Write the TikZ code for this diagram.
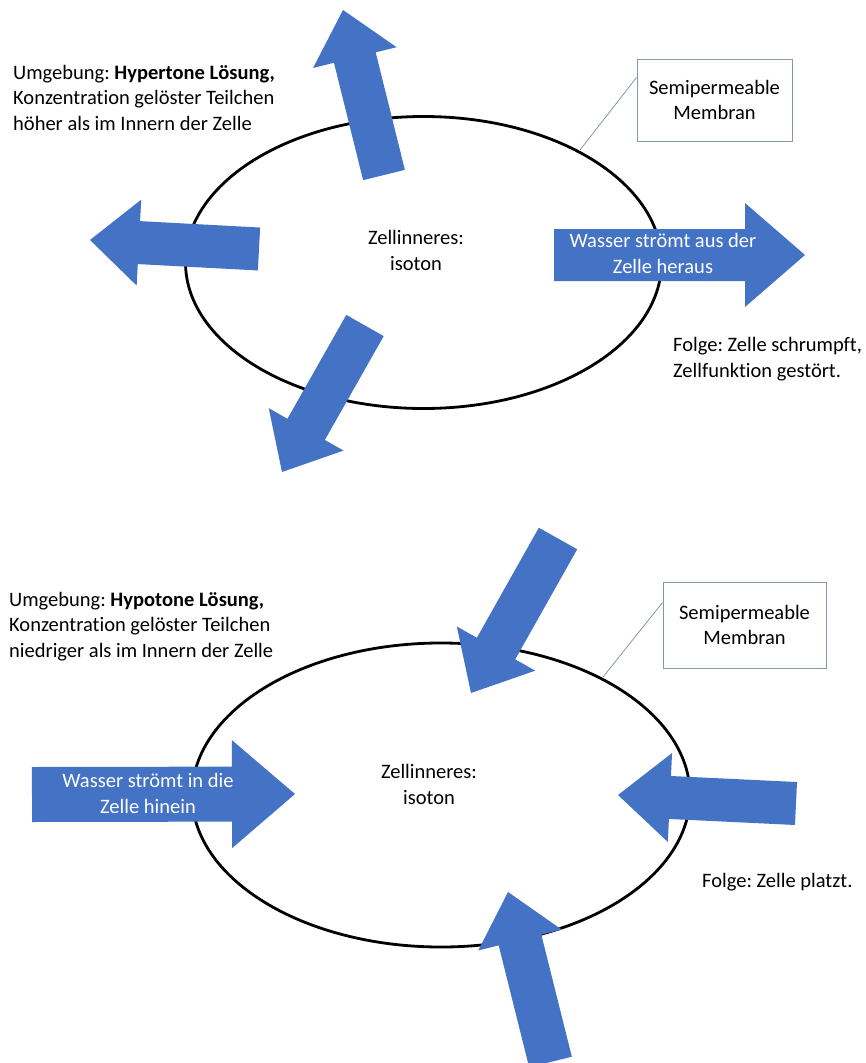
\documentclass[tikz,border=0pt]{standalone}
\usepackage{fontspec}
\setmainfont{Carlito}[Ligatures={NoCommon}]
\usetikzlibrary{calc}
\definecolor{arrowblue}{HTML}{4472C4}
\definecolor{boxline}{HTML}{8497B0}
\tikzset{
  txt/.style={inner sep=0pt, align=left, font=\frenchspacing\fontsize{20.5}{25.5}\selectfont},
  ctxt/.style={inner sep=0pt, align=center, font=\frenchspacing\fontsize{20.5}{25.5}\selectfont},
  wtxt/.style={inner sep=0pt, align=center, text=white, font=\frenchspacing\fontsize{20.5}{26}\selectfont},
  membox/.style={draw=boxline, line width=1pt, fill=white, align=center, inner sep=0pt,
     font=\frenchspacing\fontsize{20.5}{25}\selectfont},
  cell/.style={draw=black, line width=2.8pt},
  conn/.style={draw=boxline, line width=0.8pt},
  blockfill/.style={fill=arrowblue}
}
\newcommand\blockarrow[5]{%
  \coordinate (ba-n) at ($(#2)!#5!(#1)$);
  \fill[blockfill] ($(#1)!#3!90:(#2)$) -- ($(ba-n)!#3!90:(#2)$) -- ($(ba-n)!#4!90:(#2)$) -- (#2)
     -- ($(ba-n)!#4!-90:(#2)$) -- ($(ba-n)!#3!-90:(#2)$) -- ($(#1)!#3!-90:(#2)$) -- cycle;}
\begin{document}
\begin{tikzpicture}[x=1pt,y=-1pt]
\useasboundingbox[fill=white] (0,0) rectangle (865,1063);

% ---------- top: hypertonic ----------
\draw[cell] (423.5,262.5) ellipse [x radius=238, y radius=146];
\coordinate (m1) at (580,150);

% anchor = baseline of the last line
\node[txt, anchor=base west] (env1) at (13,130)
  {Umgebung: \textbf{Hypertone Lösung,}\\Konzentration gelöster Teilchen\\höher als im Innern der Zelle};

\node[membox, minimum width=155pt, minimum height=82pt] (box1) at (714.5,100)
  {Semipermeable\\Membran};
\draw[conn] ([yshift=-19pt]box1.north west) -- (m1);

\node[ctxt, anchor=base] (in1) at (416,270) {Zellinneres:\\isoton};

\coordinate (a1b) at (384,175);   \coordinate (a1t) at (343,10);
\coordinate (a2b) at (259,249);   \coordinate (a2t) at (90,240);
\coordinate (a3b) at (365,325.5); \coordinate (a3t) at (282,472);
\coordinate (a4b) at (554,255);   \coordinate (a4t) at (805,255);
\blockarrow{a1b}{a1t}{21.5pt}{43pt}{49pt}
\blockarrow{a2b}{a2t}{21.5pt}{43pt}{49pt}
\blockarrow{a3b}{a3t}{21.5pt}{43pt}{49pt}
\blockarrow{a4b}{a4t}{26pt}{52pt}{60pt}
\node[wtxt, anchor=base] (w1) at (663,273) {Wasser strömt aus der\\Zelle heraus};

\node[txt, anchor=base west] (res1) at (673,377) {Folge: Zelle schrumpft,\\Zellfunktion gestört.};

% ---------- bottom: hypotonic ----------
\draw[cell] (441,795) ellipse [x radius=249, y radius=152];
\coordinate (m2) at (603,677);

\node[txt, anchor=base west] (env2) at (9,657)
  {Umgebung: \textbf{Hypotone Lösung,}\\Konzentration gelöster Teilchen\\niedriger als im Innern der Zelle};

\node[membox, minimum width=163pt, minimum height=86pt] (box2) at (744.5,625)
  {Semipermeable\\Membran};
\draw[conn] ([yshift=-21pt]box2.north west) -- (m2);

\node[ctxt, anchor=base] (in2) at (429,804) {Zellinneres:\\isoton};

\coordinate (b1b) at (558,538.5); \coordinate (b1t) at (471,693);
\coordinate (b2b) at (796,803.5); \coordinate (b2t) at (618,795);
\coordinate (b3b) at (550.5,1062); \coordinate (b3t) at (508,892);
\coordinate (b4b) at (32,794.5);  \coordinate (b4t) at (295,794);
\blockarrow{b1b}{b1t}{22pt}{45pt}{51pt}
\blockarrow{b2b}{b2t}{21.5pt}{44.5pt}{52pt}
\blockarrow{b3b}{b3t}{22pt}{43pt}{49.5pt}
\blockarrow{b4b}{b4t}{27.5pt}{54pt}{63pt}
\node[wtxt, anchor=base] (w2) at (148,813) {Wasser strömt in die\\Zelle hinein};

\node[txt, anchor=base west] (res2) at (702,887) {Folge: Zelle platzt.};
\end{tikzpicture}
\end{document}
